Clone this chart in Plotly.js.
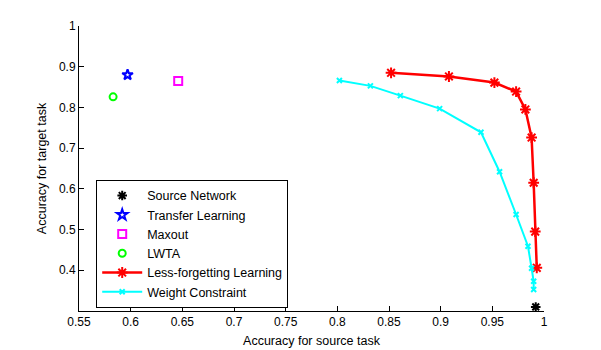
<!DOCTYPE html>
<html>
<head>
<meta charset="utf-8">
<script src="https://cdn.plot.ly/plotly-3.0.1.min.js"></script>
<style>
  html, body { margin: 0; padding: 0; background: #fff; }
  #chart { width: 601px; height: 350px; }
</style>
</head>
<body>
<div id="chart"></div>
<script>
// single-point methods
const sourceX = [0.992], sourceY = [0.31];
const transferX = [0.597], transferY = [0.880];
const maxoutX = [0.646], maxoutY = [0.865];
const lwtaX = [0.583], lwtaY = [0.826];

// curves
const lessForgetX = [0.852, 0.908, 0.952, 0.973, 0.982, 0.988, 0.990, 0.9915, 0.993];
const lessForgetY = [0.885, 0.876, 0.861, 0.839, 0.795, 0.726, 0.615, 0.495, 0.406];
const weightX = [0.802, 0.832, 0.861, 0.899, 0.939, 0.957, 0.973, 0.9845, 0.988, 0.990, 0.990];
const weightY = [0.866, 0.853, 0.829, 0.797, 0.739, 0.642, 0.537, 0.459, 0.405, 0.373, 0.353];

const xTicks = [0.55, 0.6, 0.65, 0.7, 0.75, 0.8, 0.85, 0.9, 0.95, 1];
const xTickText = ['0.55', '0.6', '0.65', '0.7', '0.75', '0.8', '0.85', '0.9', '0.95', '1'];
const yTicks = [0.4, 0.5, 0.6, 0.7, 0.8, 0.9, 1];
const yTickText = ['0.4', '0.5', '0.6', '0.7', '0.8', '0.9', '1'];

const traces = [
    {
        x: sourceX, y: sourceY, type: 'scatter', mode: 'markers', name: 'Source Network',
        marker: { symbol: 'asterisk-open', size: 8, color: '#000', line: { color: '#000', width: 2 } }
    },
    {
        x: transferX, y: transferY, type: 'scatter', mode: 'markers', name: 'Transfer Learning',
        marker: { symbol: 'star-open', size: 8, color: '#0000ff', line: { color: '#0000ff', width: 2 } }
    },
    {
        x: maxoutX, y: maxoutY, type: 'scatter', mode: 'markers', name: 'Maxout',
        marker: { symbol: 'square-open', size: 8, color: '#ff00ff', line: { color: '#ff00ff', width: 2 } }
    },
    {
        x: lwtaX, y: lwtaY, type: 'scatter', mode: 'markers', name: 'LWTA',
        marker: { symbol: 'circle-open', size: 7, color: '#00ff00', line: { color: '#00ff00', width: 2 } }
    },
    {
        x: lessForgetX, y: lessForgetY, type: 'scatter', mode: 'lines+markers', name: 'Less-forgetting Learning',
        line: { color: '#ff0000', width: 2.5 },
        marker: { symbol: 'asterisk-open', size: 9, color: '#ff0000', line: { color: '#ff0000', width: 2 } }
    },
    {
        x: weightX, y: weightY, type: 'scatter', mode: 'lines+markers', name: 'Weight Constraint',
        line: { color: '#00ffff', width: 2 },
        marker: { symbol: 'x-thin-open', size: 5, color: '#00ffff', line: { color: '#00ffff', width: 2 } }
    }
];

const layout = {
    width: 601,
    height: 350,
    margin: { l: 79, r: 57, t: 26, b: 39 },
    paper_bgcolor: '#fff',
    plot_bgcolor: '#fff',
    font: { family: 'Liberation Sans, Arial, sans-serif', size: 12, color: '#000' },
    showlegend: true,
    legend: {
        x: 0.037, y: 0.46, xanchor: 'left', yanchor: 'top',
        bgcolor: '#fff', bordercolor: '#000', borderwidth: 1,
        font: { size: 12.5, color: '#000' },
        itemwidth: 40,
        tracegroupgap: 0
    },
    xaxis: {
        range: [0.55, 1],
        tickvals: xTicks, ticktext: xTickText,
        ticks: 'inside', ticklen: 5, tickcolor: '#000',
        showline: true, linecolor: '#000', linewidth: 1,
        showgrid: false, zeroline: false,
        title: { text: 'Accuracy for source task', font: { size: 12.5 }, standoff: 7 }
    },
    yaxis: {
        range: [0.3, 1],
        tickvals: yTicks, ticktext: yTickText,
        ticks: 'inside', ticklen: 5, tickcolor: '#000',
        showline: true, linecolor: '#000', linewidth: 1,
        showgrid: false, zeroline: false,
        title: { text: 'Accuracy for target task', font: { size: 12.5 }, standoff: 9 }
    }
};

Plotly.newPlot('chart', traces, layout, { displayModeBar: false, staticPlot: true });
</script>
</body>
</html>
